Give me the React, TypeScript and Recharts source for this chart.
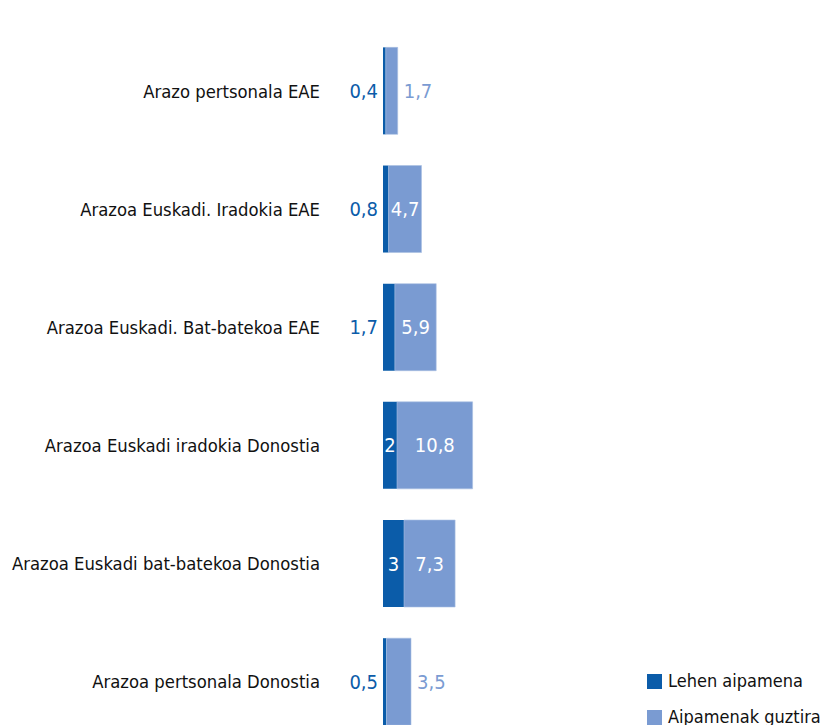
import React from "react"
import { BarChart, Bar, XAxis, YAxis, LabelList } from "recharts"

const categories = [
  "Arazo pertsonala EAE",
  "Arazoa Euskadi. Iradokia EAE",
  "Arazoa Euskadi. Bat-batekoa EAE",
  "Arazoa Euskadi iradokia Donostia",
  "Arazoa Euskadi bat-batekoa Donostia",
  "Arazoa pertsonala Donostia",
]
const lehenAipamena = [0.4, 0.8, 1.7, 2, 3, 0.5]
const aipamenakGuztira = [1.7, 4.7, 5.9, 10.8, 7.3, 3.5]

const DARK = "#0b5ca9"
const LIGHT = "#7a9bd2"
const FONT = "'DejaVu Sans Condensed', 'Liberation Sans Narrow', sans-serif"
const VAL_SIZE = 20

const data = categories.map((name, i) => ({
  name,
  lehen: lehenAipamena[i],
  guztira: aipamenakGuztira[i],
}))

const fmt = (v: number) => String(v).replace(".", ",")

// small values go outside the bar, bigger ones sit inside in white
const DarkLabel = (props: any) => {
  const { x, y, width, height, value } = props
  const cy = y + height / 2
  if (width >= 12) {
    return (
      <text x={x + width / 2} y={cy} fill="#fff" textAnchor="middle" dominantBaseline="central" fontSize={VAL_SIZE} fontFamily={FONT}>
        {fmt(value)}
      </text>
    )
  }
  return (
    <text x={x - 5} y={cy} fill={DARK} textAnchor="end" dominantBaseline="central" fontSize={VAL_SIZE} fontFamily={FONT}>
      {fmt(value)}
    </text>
  )
}

const LightLabel = (props: any) => {
  const { x, y, width, height, value } = props
  const cy = y + height / 2
  if (value >= 4) {
    return (
      <text x={x + width / 2} y={cy} fill="#fff" textAnchor="middle" dominantBaseline="central" fontSize={VAL_SIZE} fontFamily={FONT}>
        {fmt(value)}
      </text>
    )
  }
  return (
    <text x={x + width + 6} y={cy} fill={LIGHT} textAnchor="start" dominantBaseline="central" fontSize={VAL_SIZE} fontFamily={FONT}>
      {fmt(value)}
    </text>
  )
}

const App = () => {
  return (
    <div style={{ position: "absolute", left: 0, top: 0, width: 825, height: 725, overflow: "hidden", fontFamily: FONT }}>
      <BarChart
        width={825}
        height={745}
        data={data}
        layout="vertical"
        margin={{ top: 32, right: 22, bottom: 4, left: 0 }}
        barCategoryGap="13%"
      >
        <XAxis type="number" hide domain={[0, 60]} />
        <YAxis
          type="category"
          dataKey="name"
          width={383}
          axisLine={false}
          tickLine={false}
          tickSize={0}
          tickMargin={63}
          tick={{ fill: "#111", fontSize: 18.3, fontFamily: FONT }}
        />
        <Bar dataKey="lehen" stackId="a" fill={DARK} isAnimationActive={false}>
          <LabelList dataKey="lehen" content={DarkLabel} />
        </Bar>
        <Bar dataKey="guztira" stackId="a" fill={LIGHT} stroke="#a9bfe3" strokeWidth={0.6} isAnimationActive={false}>
          <LabelList dataKey="guztira" content={LightLabel} />
        </Bar>
      </BarChart>
      <div style={{ position: "absolute", left: 647, top: 663, fontSize: 18, color: "#111", lineHeight: "36px", whiteSpace: "nowrap" }}>
        <div style={{ display: "flex", alignItems: "center" }}>
          <span style={{ width: 15, height: 15, background: DARK, marginRight: 6, display: "inline-block" }} />
          Lehen aipamena
        </div>
        <div style={{ display: "flex", alignItems: "center" }}>
          <span style={{ width: 15, height: 15, background: LIGHT, marginRight: 6, display: "inline-block" }} />
          Aipamenak guztira
        </div>
      </div>
    </div>
  )
}

export default App
